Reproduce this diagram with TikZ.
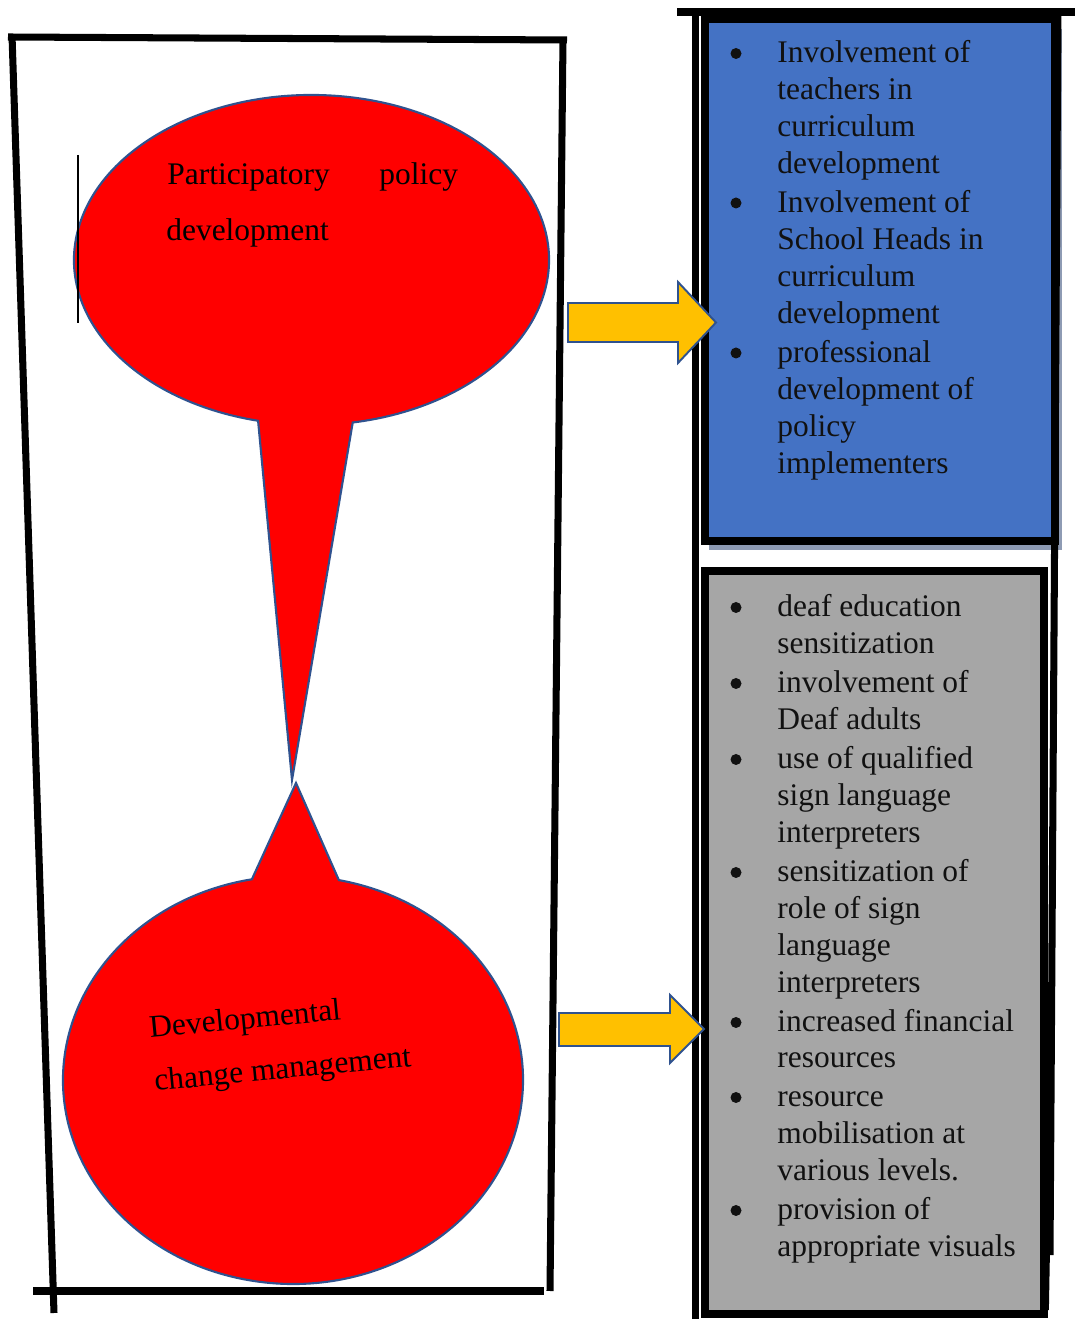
\documentclass[tikz,border=0pt]{standalone}
\usepackage{fontspec}
\setmainfont{Liberation Serif}
\usetikzlibrary{calc}
\definecolor{calloutred}{HTML}{FF0000}
\definecolor{edgeblue}{HTML}{2F528F}
\definecolor{boxblue}{HTML}{4472C4}
\definecolor{boxgrey}{HTML}{A6A6A6}
\definecolor{arrowgold}{HTML}{FFC000}
\definecolor{shadowgrey}{HTML}{8E9BB4}
\definecolor{inktext}{HTML}{111111}
\begin{document}
\begin{tikzpicture}[x=0.02cm,y=0.02cm,
  frameline/.style={line width=4pt,black},
  boxframe/.style={line width=4.5pt,draw=black},
  callout/.style={fill=calloutred,draw=edgeblue,line width=1.2pt,line join=miter},
  blockarrow/.style={fill=arrowgold,draw=edgeblue,line width=1.1pt,line join=miter},
  bodytext/.style={font=\fontsize{17.9}{21}\selectfont,text=black,inner sep=0pt,anchor=base west},
  itemtext/.style={font=\fontsize{17.9}{21}\selectfont,text=inktext,inner sep=0pt,anchor=base west},
  bulletdot/.style={fill=inktext}]
\useasboundingbox (0,0) rectangle (1075,1319);

% ---------- left panel: hand-drawn frame ----------
\draw[frameline] (8,1282) -- (567,1279);
\draw[frameline] (12,1284) -- (54,6);
\draw[frameline] (563,1281) -- (550,28);
\draw[frameline] (33,28) -- (544,28);

% ---------- speech bubbles ----------
\coordinate (e1) at (311.5,1059);
\coordinate (tip1) at (292,539);
\draw[callout] (tip1) -- ($(e1)+(257:237.5 and 165)$)
  arc[start angle=257,end angle=-80,x radius=237.5,y radius=165] -- cycle;

\coordinate (e2) at (293,239);
\coordinate (tip2) at (296,536);
\draw[callout] (tip2) -- ($(e2)+(78.5:230 and 204)$)
  arc[start angle=78.5,end angle=-259.7,x radius=230,y radius=204] -- cycle;

% text cursor mark at the left of the upper bubble
\draw[black,line width=0.6pt] (78,1164) -- (78,996);

\node[bodytext] (p1) at (167,1134) {Participatory};
\node[bodytext] (p2) at (379,1134) {policy};
\node[bodytext] (p3) at (166,1078) {development};

\node[bodytext,rotate=5.5] (d1) at (150,281) {Developmental};
\node[bodytext,rotate=5.5] (d2) at (155,228) {change management};

% ---------- right panel ----------
% shadow under the blue box
\fill[shadowgrey] (709,769) rectangle (1062,1290);
% blue box
\filldraw[boxframe,fill=boxblue] (705,778) rectangle (1055,1300);
% grey box
\filldraw[boxframe,fill=boxgrey] (705,5) rectangle (1044,748);
% outer frame of the right panel
\draw[frameline,line width=4.5pt] (677,1307) -- (1075,1307);
\draw[frameline] (695.5,1309) -- (695.5,0);
\draw[frameline] (1058,1309) -- (1050,64);
\draw[black,line width=1pt] (1049,64) -- (1048,9);

% blue box items
\foreach \yy/\tt [count=\i] in {
  1256/Involvement of, 1219/teachers in, 1182/curriculum, 1145/development,
  1106.5/Involvement of, 1069.5/School Heads in, 1032.5/curriculum, 995.5/development,
  956.5/professional, 919.5/development of, 882.5/policy, 845/implementers}
  \node[itemtext] (bl\i) at (777,\yy) {\tt};
\foreach \yy in {1256,1106.5,956.5}
  \fill[bulletdot] (736,\yy+9.5) circle (5.5);

% grey box items
\foreach \yy/\tt [count=\i] in {
  702/deaf education, 665/sensitization,
  626/involvement of, 589/Deaf adults,
  550/use of qualified, 513/sign language, 476/interpreters,
  437/sensitization of, 400/role of sign, 363/language, 326/interpreters,
  287/increased financial, 251/resources,
  212/resource, 175/mobilisation at, 138/various levels.,
  99/provision of, 62/appropriate visuals}
  \node[itemtext] (gl\i) at (777,\yy) {\tt};
\foreach \yy in {702,626,550,437,287,212,99}
  \fill[bulletdot] (736,\yy+9.5) circle (5.5);

% ---------- block arrows ----------
\draw[blockarrow] (568,1016) -- (678,1016) -- (678,1037) -- (716,996.5)
  -- (678,956) -- (678,977) -- (568,977) -- cycle;
\draw[blockarrow] (559,306) -- (670,306) -- (670,324) -- (704,290)
  -- (670,256) -- (670,273) -- (559,273) -- cycle;
\end{tikzpicture}
\end{document}
